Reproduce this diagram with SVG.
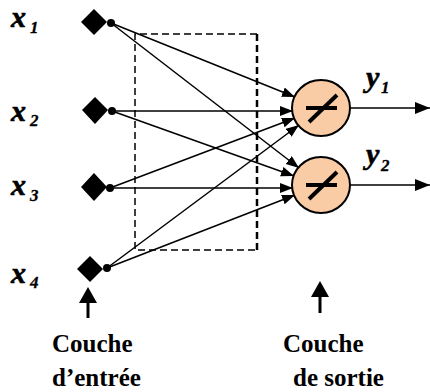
<svg xmlns="http://www.w3.org/2000/svg" width="430" height="392" viewBox="0 0 430 392">
  <style>
    text { font-family: "Liberation Serif", "DejaVu Serif", serif; font-weight: bold; fill: #000; }
    .var { font-size: 30px; font-style: italic; stroke: #000; stroke-width: 0.6; }
    .sub { font-size: 17px; font-style: italic; stroke: #000; stroke-width: 0.3; }
    .cap { font-size: 25px; }
    .link { stroke: #000; stroke-width: 1.5; fill: none; marker-end: url(#tip); }
    .out { stroke: #000; stroke-width: 1.5; fill: none; marker-end: url(#tipBig); }
    .neuron { fill: #F9CCA6; stroke: #000; stroke-width: 2; }
    .act { stroke: #000; stroke-width: 4; fill: none; }
    .input { fill: #000; }
  </style>
  <defs>
    <marker id="tip" markerUnits="userSpaceOnUse" markerWidth="14" markerHeight="12" refX="13" refY="5" orient="auto">
      <path d="M0,0 L13,5 L0,10 Z" fill="#000"/>
    </marker>
    <marker id="tipBig" markerUnits="userSpaceOnUse" markerWidth="16" markerHeight="14" refX="15" refY="6" orient="auto">
      <path d="M0,0 L15,6 L0,12 Z" fill="#000"/>
    </marker>
  </defs>

  <rect width="430" height="392" fill="#fff"/>

  <!-- hidden layer frame (dashed) -->
  <g id="frame" fill="none" stroke="#000">
    <path d="M257,34 L135,34 L135,250 L257,250" stroke-width="1.5" stroke-dasharray="7,4"/>
    <path d="M257,34 L257,250" stroke-width="2.5" stroke-dasharray="7,4"/>
  </g>

  <!-- connectors -->
  <g id="connectors">
    <line class="link" x1="111" y1="23" x2="295" y2="97"/>
    <line class="link" x1="111" y1="23" x2="299" y2="168"/>
    <line class="link" x1="112" y1="111" x2="293" y2="111"/>
    <line class="link" x1="112" y1="111" x2="294" y2="176"/>
    <line class="link" x1="110" y1="188" x2="295" y2="118"/>
    <line class="link" x1="110" y1="188" x2="293" y2="188"/>
    <line class="link" x1="107" y1="268" x2="299" y2="125"/>
    <line class="link" x1="107" y1="268" x2="295" y2="195"/>
    <line class="out" x1="350" y1="108" x2="430" y2="108"/>
    <line class="out" x1="350" y1="185" x2="430" y2="185"/>
    <!-- layer pointers -->
    <path d="M88,318 L88,302" stroke="#000" stroke-width="3"/>
    <path d="M79,303 L88,287 L97,303 Z" fill="#000"/>
    <path d="M320,313 L320,296" stroke="#000" stroke-width="3"/>
    <path d="M311,297 L320,281 L329,297 Z" fill="#000"/>
  </g>

  <!-- input nodes -->
  <g id="in1">
    <path class="input" d="M94,9 L107,22 L94,35 L81,22 Z"/>
    <circle class="input" cx="111" cy="23" r="4"/>
    <text class="var" x="11" y="27">x</text><text class="sub" x="30" y="33">1</text>
  </g>
  <g id="in2">
    <path class="input" d="M95,97 L108,110 L95,124 L82,110 Z"/>
    <circle class="input" cx="112" cy="111" r="4"/>
    <text class="var" x="11" y="121">x</text><text class="sub" x="30" y="126">2</text>
  </g>
  <g id="in3">
    <path class="input" d="M94,173 L107,187 L94,201 L81,187 Z"/>
    <circle class="input" cx="110" cy="188" r="4"/>
    <text class="var" x="11" y="195">x</text><text class="sub" x="30" y="201">3</text>
  </g>
  <g id="in4">
    <path class="input" d="M90,256 L103,269 L90,282 L77,269 Z"/>
    <circle class="input" cx="107" cy="268" r="4"/>
    <text class="var" x="11" y="283">x</text><text class="sub" x="30" y="288">4</text>
  </g>

  <!-- output neurons -->
  <g id="out1">
    <ellipse class="neuron" cx="321" cy="108" rx="29" ry="28"/>
    <line class="act" x1="306" y1="108" x2="337" y2="108"/>
    <line class="act" x1="309" y1="122" x2="337" y2="95"/>
    <text class="var" x="366" y="87">y</text><text class="sub" x="381" y="93">1</text>
  </g>
  <g id="out2">
    <ellipse class="neuron" cx="321" cy="185" rx="29" ry="28"/>
    <line class="act" x1="306" y1="185" x2="337" y2="185"/>
    <line class="act" x1="309" y1="199" x2="337" y2="172"/>
    <text class="var" x="366" y="164">y</text><text class="sub" x="381" y="171">2</text>
  </g>

  <!-- layer captions -->
  <g id="cap-in">
    <text class="cap" x="52" y="352">Couche</text>
    <text class="cap" x="52" y="386">d’entrée</text>
  </g>
  <g id="cap-out">
    <text class="cap" x="283" y="352">Couche</text>
    <text class="cap" x="293" y="386">de sortie</text>
  </g>
</svg>
